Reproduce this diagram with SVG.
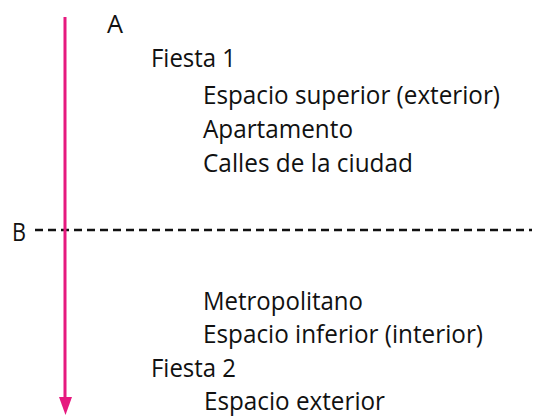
<svg xmlns="http://www.w3.org/2000/svg" width="536" height="417" viewBox="0 0 536 417">
<style>
text{font-family:"Open Sans","Liberation Sans",sans-serif;font-size:26px;fill:#111}
.dash{stroke:#111;stroke-width:2.5;stroke-dasharray:8,5;fill:none}
.arrow{stroke:#e6197f;stroke-width:3;fill:none}
.head{fill:#e6197f}
</style>
<g id="connectors">
<path class="dash" d="M35,230 L532,230"/>
<path class="arrow" d="M65,17 L65,400"/>
<path class="head" d="M59,397 L72,397 L65.5,415 Z"/>
</g>
<g id="labels">
<text x="107" y="33" textLength="16" lengthAdjust="spacingAndGlyphs">A</text>
<text x="151" y="67" textLength="85" lengthAdjust="spacingAndGlyphs">Fiesta 1</text>
<text x="203" y="104" textLength="297" lengthAdjust="spacingAndGlyphs">Espacio superior (exterior)</text>
<text x="203" y="138" textLength="150" lengthAdjust="spacingAndGlyphs">Apartamento</text>
<text x="203" y="172" textLength="210" lengthAdjust="spacingAndGlyphs">Calles de la ciudad</text>
<text x="12" y="241" textLength="14" lengthAdjust="spacingAndGlyphs">B</text>
<text x="203" y="310" textLength="160" lengthAdjust="spacingAndGlyphs">Metropolitano</text>
<text x="203" y="343" textLength="280" lengthAdjust="spacingAndGlyphs">Espacio inferior (interior)</text>
<text x="151" y="377" textLength="85" lengthAdjust="spacingAndGlyphs">Fiesta 2</text>
<text x="204" y="410" font-size="25" textLength="181" lengthAdjust="spacingAndGlyphs">Espacio exterior</text>
</g>
</svg>
